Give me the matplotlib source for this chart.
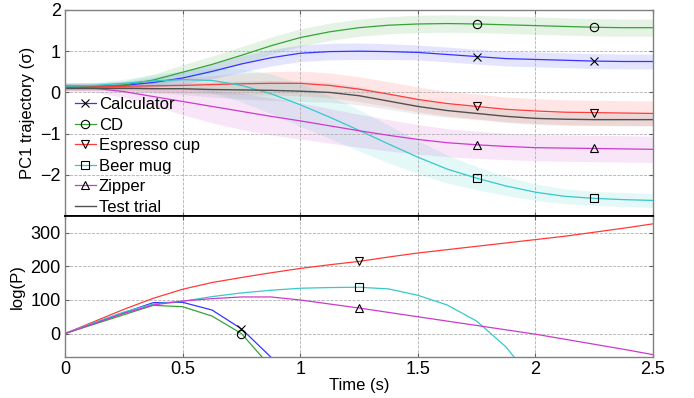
import numpy as np
import matplotlib
matplotlib.use("Agg")
import matplotlib.pyplot as plt
from matplotlib.lines import Line2D

plt.rcParams['font.family'] = ['Liberation Sans', 'DejaVu Sans']
plt.rcParams['font.size'] = 11

# time grid (s)
t = [0, 0.125, 0.25, 0.375, 0.5, 0.625, 0.75, 0.875, 1.0, 1.125, 1.25,
     1.375, 1.5, 1.625, 1.75, 1.875, 2.0, 2.125, 2.25, 2.375, 2.5]

names = ["Calculator", "CD", "Espresso cup", "Beer mug", "Zipper"]
colors = ["#3535ff", "#36a336", "#ff3a3a", "#35c9c9", "#cc3acc"]
markers = ["x", "o", "v", "s", "^"]

# PC1 trajectory (sigma), mean
pc_calc = [0.15, 0.15, 0.17, 0.24, 0.35, 0.51, 0.69, 0.84, 0.95, 0.99, 1.00,
           0.99, 0.97, 0.92, 0.87, 0.82, 0.80, 0.78, 0.76, 0.75, 0.75]
pc_cd = [0.15, 0.15, 0.18, 0.30, 0.49, 0.68, 0.90, 1.13, 1.33, 1.47, 1.57,
         1.63, 1.66, 1.67, 1.66, 1.64, 1.62, 1.60, 1.58, 1.57, 1.57]
pc_espresso = [0.12, 0.13, 0.15, 0.16, 0.17, 0.19, 0.21, 0.22, 0.22, 0.17, 0.08,
               -0.04, -0.17, -0.27, -0.34, -0.41, -0.45, -0.48, -0.49, -0.50, -0.51]
pc_beer = [0.15, 0.17, 0.22, 0.28, 0.31, 0.29, 0.17, -0.03, -0.30, -0.60, -0.92,
           -1.25, -1.57, -1.86, -2.08, -2.27, -2.42, -2.52, -2.57, -2.60, -2.62]
pc_zipper = [0.12, 0.10, 0.02, -0.10, -0.22, -0.34, -0.46, -0.58, -0.69, -0.81, -0.93,
             -1.04, -1.14, -1.22, -1.27, -1.31, -1.34, -1.35, -1.36, -1.37, -1.38]
pc_test = [0.10, 0.10, 0.10, 0.09, 0.09, 0.07, 0.06, 0.05, 0.03, 0.00, -0.08,
           -0.21, -0.34, -0.44, -0.51, -0.58, -0.63, -0.65, -0.66, -0.66, -0.66]

# half width of the shaded bands
sd_calc = [0.08, 0.08, 0.09, 0.12, 0.15, 0.18, 0.20, 0.20, 0.20, 0.20, 0.20,
           0.19, 0.18, 0.18, 0.18, 0.18, 0.18, 0.18, 0.18, 0.18, 0.18]
sd_cd = [0.08, 0.08, 0.10, 0.14, 0.18, 0.20, 0.21, 0.21, 0.21, 0.21, 0.21,
         0.21, 0.21, 0.21, 0.21, 0.21, 0.21, 0.21, 0.21, 0.21, 0.21]
sd_espresso = [0.08, 0.08, 0.10, 0.14, 0.18, 0.22, 0.26, 0.28, 0.30, 0.30, 0.30,
               0.30, 0.30, 0.30, 0.30, 0.30, 0.30, 0.30, 0.30, 0.30, 0.30]
sd_beer = [0.08, 0.08, 0.10, 0.15, 0.22, 0.30, 0.40, 0.48, 0.52, 0.52, 0.50,
           0.46, 0.40, 0.34, 0.28, 0.23, 0.20, 0.18, 0.17, 0.17, 0.17]
sd_zipper = [0.08, 0.09, 0.14, 0.22, 0.32, 0.40, 0.44, 0.45, 0.44, 0.42, 0.40,
             0.38, 0.36, 0.34, 0.33, 0.32, 0.32, 0.32, 0.32, 0.32, 0.32]
sd_test = [0.05, 0.05, 0.07, 0.10, 0.14, 0.18, 0.22, 0.24, 0.25, 0.24, 0.22,
           0.20, 0.18, 0.16, 0.15, 0.15, 0.15, 0.15, 0.15, 0.15, 0.15]

# log(P)
lp_calc = [0, 31, 62, 92, 93, 70, 14, -70, -180, None, None,
           None, None, None, None, None, None, None, None, None, None]
lp_cd = [0, 28, 56, 84, 80, 52, 0, -100, -220, None, None,
         None, None, None, None, None, None, None, None, None, None]
lp_espresso = [0, 36, 72, 105, 132, 152, 167, 181, 194, 205, 215,
               228, 240, 250, 260, 270, 280, 290, 302, 314, 327]
lp_beer = [0, 33, 64, 88, 96, 110, 121, 129, 135, 137, 138,
           133, 114, 85, 37, -40, -150, None, None, None, None]
lp_zipper = [0, 30, 60, 85, 97, 104, 109, 109, 100, 88, 76,
             63, 50, 37, 24, 11, -2, -17, -32, -47, -63]

pc_all = [pc_calc, pc_cd, pc_espresso, pc_beer, pc_zipper]
sd_all = [sd_calc, sd_cd, sd_espresso, sd_beer, sd_zipper]
lp_all = [lp_calc, lp_cd, lp_espresso, lp_beer, lp_zipper]
top_marks = [14, 18]
bot_marks = [[6], [6], [10], [10], [10]]

t = np.array(t)
fig = plt.figure(figsize=(6.94, 3.98), dpi=100)
ax1 = fig.add_axes([0.0937, 0.457, 0.8473, 0.518])
ax2 = fig.add_axes([0.0937, 0.103, 0.8473, 0.354])

mk = dict(mec='k', mfc='none', mew=0.8, ms=6, linestyle='none')

# shaded bands first
for m, s, c in zip(pc_all, sd_all, colors):
    m, s = np.array(m), np.array(s)
    ax1.fill_between(t, m - s, m + s, color=c, alpha=0.13, lw=0)
m, s = np.array(pc_test), np.array(sd_test)
ax1.fill_between(t, m - s, m + s, color='#555555', alpha=0.10, lw=0)

for m, c, mr in zip(pc_all, colors, markers):
    ax1.plot(t, m, color=c, lw=0.9)
    ax1.plot(t[top_marks], np.array(m)[top_marks], marker=mr, **mk)
ax1.plot(t, pc_test, color='#505050', lw=1.0)

for v, c, mr, idx in zip(lp_all, colors, markers, bot_marks):
    v = np.array([np.nan if x is None else x for x in v], dtype=float)
    ax2.plot(t, v, color=c, lw=0.9)
    ax2.plot(t[idx], v[idx], marker=mr, **mk)

handles = [Line2D([], [], color=c, lw=0.9, marker=mr, mec='k', mfc='none', mew=0.8, ms=6)
           for c, mr in zip(colors, markers)]
handles.append(Line2D([], [], color='#505050', lw=1.0))
ax1.legend(handles, names + ["Test trial"], loc='lower left', frameon=False,
           handlelength=1.3, handletextpad=0.15, labelspacing=0.33,
           borderaxespad=0.0, bbox_to_anchor=(0.005, -0.025), fontsize=12)

ax1.set_xlim(0, 2.5)
ax1.set_ylim(-3, 2)
ax1.set_yticks([-2, -1, 0, 1, 2])
ax1.set_xticks([0, 0.5, 1, 1.5, 2, 2.5])
ax1.tick_params(labelbottom=False)
ax1.set_ylabel("PC1 trajectory (σ)", fontsize=12)

ax2.set_xlim(0, 2.5)
ax2.set_ylim(-70, 350)
ax2.set_yticks([0, 100, 200, 300])
ax2.set_xticks([0, 0.5, 1, 1.5, 2, 2.5])
ax2.set_xticklabels(["0", "0.5", "1", "1.5", "2", "2.5"])
ax2.set_ylabel("log(P)", fontsize=12)
ax2.set_xlabel("Time (s)", fontsize=12, labelpad=0)

for ax in (ax1, ax2):
    ax.grid(True, ls='--', color='#b0b0b0', lw=0.6)
    ax.tick_params(direction='in', top=True, right=True, length=3,
                   color='#606060', labelsize=13, pad=3)
    for sp in ax.spines.values():
        sp.set_color('#808080')
        sp.set_linewidth(1.0)
ax1.spines['bottom'].set_color('k')
ax1.spines['bottom'].set_linewidth(1.3)
ax2.spines['top'].set_color('k')
ax2.spines['top'].set_linewidth(1.3)

fig.savefig("out.png", dpi=100)
